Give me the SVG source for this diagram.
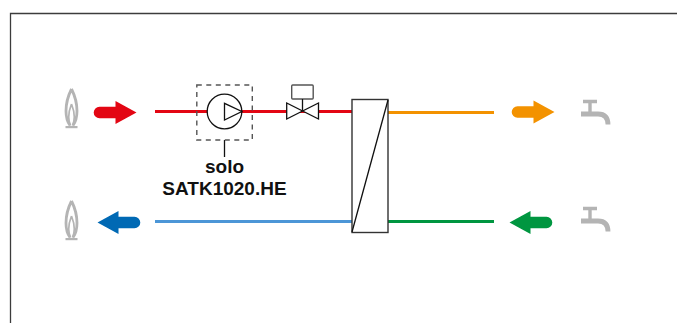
<svg xmlns="http://www.w3.org/2000/svg" width="677" height="323" viewBox="0 0 677 323">
<style>
.pipe{fill:none;stroke-width:3}
.ln{fill:none;stroke:#111;stroke-width:1.3}
.lb{font-family:"Liberation Sans",Arial,sans-serif;font-size:19px;font-weight:bold;fill:#111;text-anchor:middle}
</style>
<defs>
<g id="flame">
<path d="M0,-21C-3,-15 -5.500,-7 -5.500,1C-5.500,8 -4,12 -1.500,15.500M0,-21C3,-15 5.500,-7 5.500,1C5.500,8 4,12 1.500,15.500" fill="none" stroke="#b4b4b4" stroke-width="2.800"/>
<path d="M0,-6C-2,-1 -2.800,3 -2.800,7C-2.800,10 -2,13 -1,15.500M0,-6C2,-1 2.800,3 2.800,7C2.800,10 2,13 1,15.500" fill="none" stroke="#b4b4b4" stroke-width="1.700"/>
<rect x="-6" y="16" width="12" height="2.200" fill="#b4b4b4"/>
</g>
<g id="tap">
<path d="M2,0H16M9,0V12" fill="none" stroke="#b4b4b4" stroke-width="3.400"/>
<path d="M0,12.500H17C24,12.500 27,16 27,23" fill="none" stroke="#b4b4b4" stroke-width="4.800"/>
</g>
<path id="arrow" d="M0,-5.800H16V-11.500L37,0L16,11.500V5.800H0A5.800,5.800 0 0 1 0,-5.800Z"/>
</defs>
<path d="M10.500,323V13.500H677" fill="none" stroke="#3c3c3c" stroke-width="1.300"/>
<g id="connectors">
<path class="pipe" stroke="#e30613" d="M155,111.500H352"/>
<path class="pipe" stroke="#f39200" d="M388,112.500H494"/>
<path class="pipe" stroke="#4c96d7" d="M155,221.500H352"/>
<path class="pipe" stroke="#009640" d="M388,221.500H494"/>
<path class="ln" d="M224.500,140V157"/>
</g>
<g id="burner-top"><use href="#flame" x="71.500" y="110"/></g>
<g id="burner-bottom"><use href="#flame" x="71.500" y="222"/></g>
<g id="arrow-red"><use href="#arrow" x="99.500" y="112.500" fill="#e30613"/></g>
<g id="arrow-orange"><use href="#arrow" x="517.500" y="112" fill="#f39200"/></g>
<g id="arrow-blue"><use href="#arrow" transform="translate(134.500,222.500) scale(-1,1)" fill="#0069b4"/></g>
<g id="arrow-green"><use href="#arrow" transform="translate(546.500,222.500) scale(-1,1)" fill="#009640"/></g>
<g id="tap-top"><use href="#tap" x="581" y="101.500"/></g>
<g id="tap-bottom"><use href="#tap" x="581" y="208.500"/></g>
<g id="pump">
<rect x="196.800" y="85" width="55.500" height="55" fill="none" stroke="#555" stroke-width="1.400" stroke-dasharray="5 4.500"/>
<circle cx="224.500" cy="111.500" r="17.300" fill="#fff" stroke="#111" stroke-width="1.300"/>
<path class="ln" d="M224.500,103.300V120L241.800,111.500Z"/>
</g>
<g id="valve">
<rect x="291.700" y="85" width="21.500" height="14" rx="1" fill="#fff" stroke="#555" stroke-width="1.400"/>
<path class="ln" d="M302.500,99V111.500"/>
<path class="ln" style="fill:#fff" d="M286.700,103V119L318.500,103V119Z"/>
</g>
<g id="heat-exchanger">
<rect x="352" y="99.500" width="36" height="133" fill="#fff" stroke="#333" stroke-width="1.400"/>
<path class="ln" d="M388,100L352,232"/>
</g>
<g id="label">
<text class="lb" x="224.500" y="173.300">solo</text>
<text class="lb" x="224.500" y="195">SATK1020.HE</text>
</g>
</svg>
